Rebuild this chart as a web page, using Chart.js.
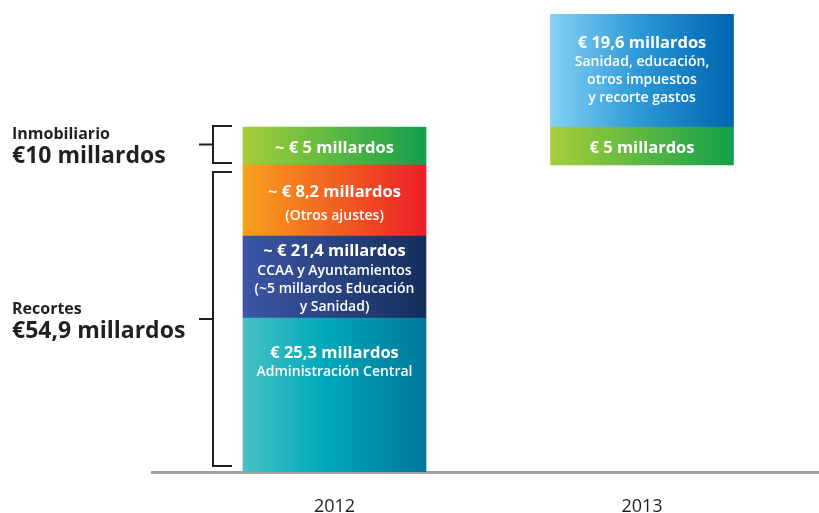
<!DOCTYPE html>
<html><head><meta charset="utf-8">
<script src="https://cdn.jsdelivr.net/npm/chart.js@4/dist/chart.umd.min.js"></script>
<style>html,body{margin:0;padding:0;background:#fff;}#wrap{width:819px;height:513px;position:relative;}</style>
</head><body><div id="wrap"><canvas id="c" width="819" height="513"></canvas></div>
<script>
// ---------- DATA ----------
const years = [2012, 2013];
const segmentNames = ['Administración Central', 'CCAA y Ayuntamientos', 'Otros ajustes', 'Inmobiliario', 'Sanidad, educación, otros impuestos y recorte gastos'];
// Amounts as labelled (billions of €)
const admCentralBn = [25.3, null];
const ccaaBn = [21.4, null];
const otrosBn = [8.2, null];
const inmobBn = [5, 5];
const sanidadBn = [null, 19.6];
// "~" (approximate) markers as written on the bars
const admCentralApprox = [false, false];
const ccaaApprox = [true, false];
const otrosApprox = [true, false];
const inmobApprox = [true, false];
const sanidadApprox = [false, false];
// Segment heights as drawn in the source (schematic, not to scale with the amounts)
const admCentralH = [15.4, null];
const ccaaH = [8.2, null];
const otrosH = [7.1, null];
const inmobH = [3.8, 3.8];
const sanidadH = [null, 11.3];
// Secondary text lines
const admCentralNotes = [['Administración Central'], null];
const ccaaNotes = [['CCAA y Ayuntamientos', '(~5 millardos Educación', 'y Sanidad)'], null];
const otrosNotes = [['(Otros ajustes)'], null];
const inmobNotes = [[], []];
const sanidadNotes = [null, ['Sanidad, educación,', 'otros impuestos', 'y recorte gastos']];
// Bracket groups on the left
const groupNames = ['Inmobiliario', 'Recortes'];
const groupTotalsBn = [10, 54.9];

// ---------- BUILD ----------
const fmt = v => Number.isInteger(v) ? String(v) : v.toFixed(1).replace('.', ',');
function ranges(heights, starts) {
  return years.map((y, i) => heights[i] == null ? null : {x: y, y: [starts[i], starts[i] + heights[i]]}).filter(Boolean);
}
const recortesTop = (admCentralH[0] || 0) + (ccaaH[0] || 0) + (otrosH[0] || 0);
const admData = ranges(admCentralH, years.map(() => 0));
const ccaaData = ranges(ccaaH, years.map((_, i) => admCentralH[i] || 0));
const otrosData = ranges(otrosH, years.map((_, i) => (admCentralH[i] || 0) + (ccaaH[i] || 0)));
const inmobData = ranges(inmobH, years.map(() => recortesTop));
const sanidadData = ranges(sanidadH, years.map((_, i) => recortesTop + (inmobH[i] || 0)));
const yMax = Math.max(...[admData, ccaaData, otrosData, inmobData, sanidadData].flat().map(p => p.y[1]));

const BAR_W = 183;
function grad(stops, fallback) {
  return (ctx) => {
    const chart = ctx.chart;
    if (!chart.chartArea || ctx.type !== 'data' || !ctx.raw) return fallback;
    const cx = chart.scales.x.getPixelForValue(ctx.raw.x);
    const g = chart.ctx.createLinearGradient(cx - BAR_W / 2, 0, cx + BAR_W / 2, 0);
    stops.forEach(s => g.addColorStop(s[0], s[1]));
    return g;
  };
}

const datasets = [
  {label: segmentNames[0], data: admData, amounts: admCentralBn, approx: admCentralApprox, notes: admCentralNotes,
   anchor: 'top', firstGap: 19, shift: 0,
   backgroundColor: grad([[0, '#46c1c3'], [0.45, '#00a8ba'], [1, '#00789b']], '#00a8ba')},
  {label: segmentNames[1], data: ccaaData, amounts: ccaaBn, approx: ccaaApprox, notes: ccaaNotes,
   anchor: 'center', firstGap: 19.5, shift: 2,
   backgroundColor: grad([[0, '#3d56a6'], [1, '#152f5a']], '#2a4280')},
  {label: segmentNames[2], data: otrosData, amounts: otrosBn, approx: otrosApprox, notes: otrosNotes,
   anchor: 'center', firstGap: 24, shift: 4,
   backgroundColor: grad([[0, '#f8a21c'], [1, '#ec1f26']], '#f26522')},
  {label: segmentNames[3], data: inmobData, amounts: inmobBn, approx: inmobApprox, notes: inmobNotes,
   anchor: 'center', firstGap: 19.5, shift: 2,
   backgroundColor: grad([[0, '#a6ce39'], [1, '#12a04b']], '#5cb646')},
  {label: segmentNames[4], data: sanidadData, amounts: sanidadBn, approx: sanidadApprox, notes: sanidadNotes,
   anchor: 'center', firstGap: 19, shift: 0,
   backgroundColor: grad([[0, '#84d1f5'], [0.5, '#2a97d6'], [1, '#0064b0']], '#2a97d6')}
];

const BIG = 'bold 16.5px "Open Sans"';
const SMALL = '600 14px "Open Sans"';
const INK = '#231f20';

const overlay = {
  id: 'overlay',
  afterDatasetsDraw(chart) {
    const ctx = chart.ctx;
    ctx.save();
    ctx.textAlign = 'center';
    ctx.textBaseline = 'middle';
    ctx.fillStyle = '#ffffff';
    chart.data.datasets.forEach((ds, d) => {
      const meta = chart.getDatasetMeta(d);
      meta.data.forEach((el, k) => {
        const i = years.indexOf(ds.data[k].x);
        const lines = [{t: (ds.approx[i] ? '~ ' : '') + '€ ' + fmt(ds.amounts[i]) + ' millardos', f: BIG}];
        (ds.notes[i] || []).forEach(n => lines.push({t: n, f: SMALL}));
        const offs = lines.map((_, j) => j === 0 ? 0 : ds.firstGap + (j - 1) * 18);
        const top = Math.min(el.y, el.base), bot = Math.max(el.y, el.base);
        const y0 = ds.anchor === 'top' ? top + 35 : (top + bot) / 2 - offs[offs.length - 1] / 2 + ds.shift;
        lines.forEach((ln, j) => { ctx.font = ln.f; ctx.fillText(ln.t, el.x, y0 + offs[j]); });
      });
    });
    // brackets
    const adm = chart.getDatasetMeta(0).data[0];
    const otr = chart.getDatasetMeta(2).data[0];
    const inm = chart.getDatasetMeta(3).data[0];
    const barLeft = adm.x - adm.width / 2;
    const vx = barLeft - 30, armEnd = barLeft - 11, tickStart = barLeft - 44;
    const spans = [
      [Math.min(inm.y, inm.base) - 1, Math.max(inm.y, inm.base) - 2],
      [Math.min(otr.y, otr.base) + 7, adm.base - 6]
    ];
    ctx.strokeStyle = INK; ctx.lineWidth = 2;
    spans.forEach((s, g) => {
      const mid = (s[0] + s[1]) / 2;
      ctx.beginPath();
      ctx.moveTo(armEnd, s[0]); ctx.lineTo(vx, s[0]); ctx.lineTo(vx, s[1]); ctx.lineTo(armEnd, s[1]);
      ctx.moveTo(vx, mid); ctx.lineTo(tickStart, mid);
      ctx.stroke();
      ctx.fillStyle = INK; ctx.textAlign = 'left';
      ctx.font = 'bold 16px "Open Sans"';
      ctx.fillText(groupNames[g], 12, mid - 10);
      ctx.font = 'bold 23px "Open Sans"';
      ctx.fillText('€' + fmt(groupTotalsBn[g]) + ' millardos', 12, mid + 12);
    });
    ctx.restore();
  }
};

function build() {
  new Chart(document.getElementById('c'), {
    type: 'bar',
    data: {datasets},
    options: {
      responsive: false, animation: false,
      layout: {padding: {left: 152, right: 0, top: 14, bottom: 0}},
      datasets: {bar: {grouped: false, barThickness: BAR_W, borderWidth: 0}},
      plugins: {legend: {display: false}, tooltip: {enabled: false}},
      scales: {
        x: {
          type: 'linear', offset: false, min: 2011.4065, max: 2013.5756, bounds: 'ticks',
          afterBuildTicks: axis => { axis.ticks = years.map(v => ({value: v})); },
          afterFit: axis => { axis.height = 41; },
          grid: {display: true, offset: false, drawOnChartArea: false, drawTicks: false, color: 'rgba(0,0,0,0)'},
          border: {display: true, color: '#a0a0a0', width: 3},
          ticks: {callback: v => String(v), color: INK, padding: 24, font: {family: '"Open Sans"', size: 18}}
        },
        y: {display: false, min: 0, max: yMax}
      }
    },
    plugins: [overlay]
  });
}
const fl = ['bold 16px "Open Sans"', '600 14px "Open Sans"', '16px "Open Sans"'].map(f => document.fonts.load(f).catch(() => null));
Promise.all(fl).then(build, build);
</script></body></html>
